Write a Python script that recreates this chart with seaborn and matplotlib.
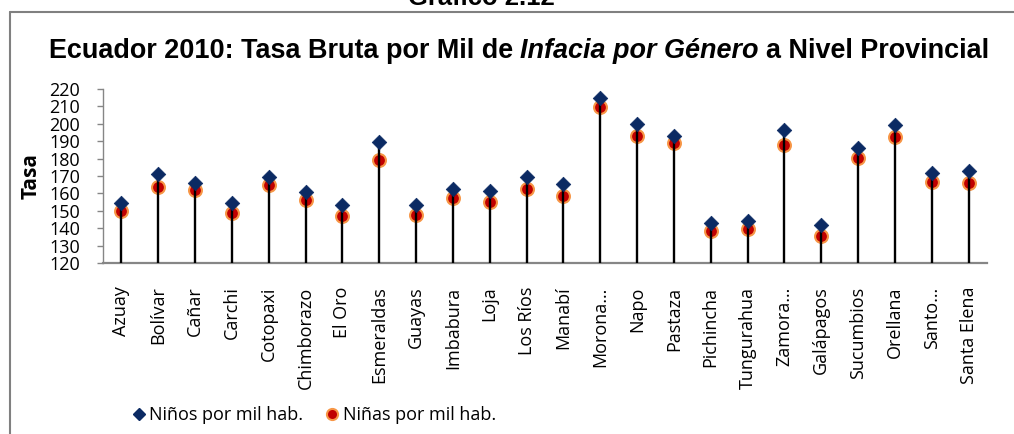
import numpy as np
import pandas as pd
import matplotlib
matplotlib.use("Agg")
import matplotlib.pyplot as plt
from matplotlib.lines import Line2D
import seaborn as sns

provinces = ["Azuay", "Bolívar", "Cañar", "Carchi", "Cotopaxi", "Chimborazo", "El Oro",
             "Esmeraldas", "Guayas", "Imbabura", "Loja", "Los Ríos", "Manabí", "Morona…",
             "Napo", "Pastaza", "Pichincha", "Tungurahua", "Zamora…", "Galápagos",
             "Sucumbios", "Orellana", "Santo…", "Santa Elena"]
ninos = [154.2, 171.2, 166.2, 154.6, 169.2, 160.8, 153.1, 189.8, 153.5, 162.7, 161.5, 169.6,
         165.4, 214.8, 199.8, 193.1, 143.1, 144.2, 196.5, 141.9, 186.2, 199.4, 171.7, 172.7]
ninas = [150.0, 163.8, 161.9, 148.5, 164.8, 156.2, 146.9, 179.2, 147.7, 157.3, 155.0, 162.5,
         158.3, 209.6, 193.1, 188.8, 138.3, 139.4, 187.7, 135.8, 180.6, 192.3, 166.5, 165.8]
yticks = list(range(120, 221, 10))
legend_labels = ["Niños por mil hab.", "Niñas por mil hab."]

sns.set_style("white")
plt.rcParams['font.family'] = ['Open Sans', 'DejaVu Sans']
plt.rcParams['text.color'] = 'black'
plt.rcParams['axes.labelcolor'] = 'black'
plt.rcParams['xtick.labelcolor'] = 'black'
plt.rcParams['ytick.labelcolor'] = 'black'

W, H = 1014, 434
fig = plt.figure(figsize=(W / 100, H / 100), dpi=100)
ax = fig.add_axes([103 / W, 1 - 263 / H, 884 / W, 174 / H])

df = pd.DataFrame({"pos": np.arange(len(provinces)), "Provincia": provinces,
                   "Niños": ninos, "Niñas": ninas})

NAVY = "#0B2A63"
RED = "#C00000"
ORANGE = "#F79646"

sns.scatterplot(data=df, x="pos", y="Niñas", marker="o", s=86, color=RED,
                edgecolor=ORANGE, linewidth=1.5, ax=ax, zorder=3, legend=False)
ax.vlines(df["pos"], yticks[0], df["Niños"], color="black", lw=1.7, zorder=4)
sns.scatterplot(data=df, x="pos", y="Niños", marker="D", s=55, color=NAVY,
                edgecolor=NAVY, linewidth=0.5, ax=ax, zorder=5, legend=False)

ax.set_xlim(-0.5, len(provinces) - 0.5)
ax.set_ylim(yticks[0], yticks[-1])
ax.set_yticks(yticks)
ax.set_yticklabels([str(t) for t in yticks], fontsize=13)
ax.set_xticks(df["pos"])
ax.set_xticklabels(provinces, rotation=90, fontsize=13)
ax.tick_params(axis="x", length=0, pad=17)
ax.tick_params(axis="y", length=4.5, width=1, color="#868686", pad=12, left=True)
for s in ["top", "right"]:
    ax.spines[s].set_visible(False)
ax.spines["left"].set_color("#868686")
ax.spines["left"].set_linewidth(1.0)
ax.spines["bottom"].set_color("#868686")
ax.spines["bottom"].set_linewidth(1.6)
ax.set_xlabel("")
ax.set_ylabel("Tasa", fontsize=15, fontweight="bold")
ax.yaxis.set_label_coords((42 - 103) / 884, 0.5)

# legend
h1 = Line2D([], [], marker="D", color=NAVY, ls="none", ms=6.5)
h2 = Line2D([], [], marker="o", mfc=RED, mec=ORANGE, mew=1.5, ls="none", ms=8)
fig.legend(handles=[h1, h2], labels=legend_labels, loc="center",
           bbox_to_anchor=(313 / W, 1 - 415 / H), ncol=2, frameon=False,
           handletextpad=0.1, columnspacing=1.1, handlelength=1.0, fontsize=13)

# frame
fig.add_artist(Line2D([10 / W, 10 / W], [0, 1 - 12 / H], transform=fig.transFigure,
                      color="#808080", lw=1.5))
fig.add_artist(Line2D([10 / W, 1], [1 - 12 / H, 1 - 12 / H], transform=fig.transFigure,
                      color="#808080", lw=1.5))

renderer = fig.canvas.get_renderer()


def text_width(s, **kw):
    t = fig.text(0, 0, s, **kw)
    w = t.get_window_extent(renderer).width
    t.remove()
    return w


def fit_size(s, target, **kw):
    w = text_width(s, fontsize=10, **kw)
    return 10 * target / w


# "Gráfico 2.12" header (cut at top, as in the source)
tf = dict(family=["Liberation Sans", "DejaVu Sans"], fontweight="bold")
fs_g = fit_size("Gráfico 2.12", 147, **tf)
fig.text(481 / W, 1 - 5 / H, "Gráfico 2.12", ha="center", va="baseline",
         fontsize=fs_g, color="black", **tf)

# main title with italic part
parts = [("Ecuador 2010: Tasa Bruta por Mil de", "normal"),
         ("Infacia por Género", "italic"),
         ("a Nivel Provincial", "normal")]
full = " ".join(p for p, _ in parts)
fs = fit_size(full, 940, **tf)
space = text_width("a a", fontsize=fs, **tf) - text_width("aa", fontsize=fs, **tf)
widths = [text_width(p, fontsize=fs, style=st, **tf) for p, st in parts]
total = sum(widths) + space * (len(parts) - 1)
x = 519 - total / 2
for (p, st), w in zip(parts, widths):
    fig.text(x / W, 1 - 58 / H, p, ha="left", va="baseline", fontsize=fs, style=st, **tf)
    x += w + space

fig.savefig("out.png", dpi=100)
